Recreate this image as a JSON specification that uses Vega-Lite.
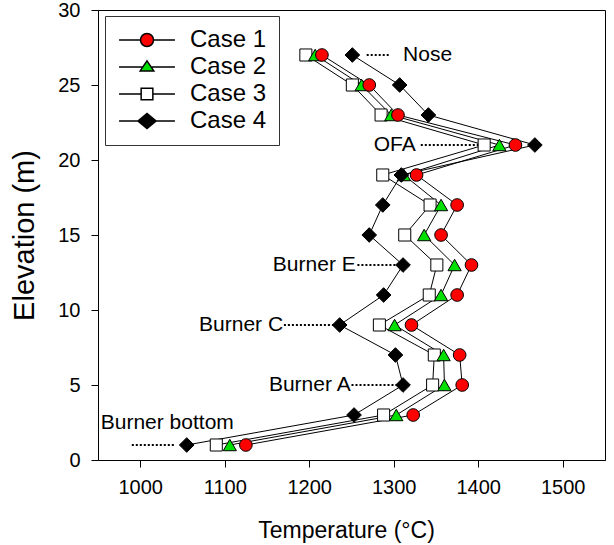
{
  "$schema": "https://vega.github.io/schema/vega-lite/v6.json",
  "width": 507,
  "height": 450,
  "autosize": {"type": "none"},
  "padding": {"left": 98, "top": 10, "right": 9, "bottom": 85},
  "background": "white",
  "config": {
    "font": "Liberation Sans",
    "view": {"stroke": "black", "strokeWidth": 1},
    "axis": {
      "grid": false,
      "domainColor": "black",
      "tickColor": "black",
      "tickSize": 7,
      "labelColor": "black",
      "titleColor": "black",
      "labelFont": "Liberation Sans",
      "titleFont": "Liberation Sans",
      "labelFontSize": 20,
      "titleFontWeight": "normal"
    }
  },
  "datasets": {
    "profiles": [
      {"case": "Case 3", "temp": 1090, "elev": 1},
      {"case": "Case 3", "temp": 1288, "elev": 3},
      {"case": "Case 3", "temp": 1346, "elev": 5},
      {"case": "Case 3", "temp": 1348, "elev": 7},
      {"case": "Case 3", "temp": 1283, "elev": 9},
      {"case": "Case 3", "temp": 1342, "elev": 11},
      {"case": "Case 3", "temp": 1351, "elev": 13},
      {"case": "Case 3", "temp": 1313, "elev": 15},
      {"case": "Case 3", "temp": 1343, "elev": 17},
      {"case": "Case 3", "temp": 1287, "elev": 19},
      {"case": "Case 3", "temp": 1407, "elev": 21},
      {"case": "Case 3", "temp": 1285, "elev": 23},
      {"case": "Case 3", "temp": 1251, "elev": 25},
      {"case": "Case 3", "temp": 1196, "elev": 27},
      {"case": "Case 2", "temp": 1106, "elev": 1},
      {"case": "Case 2", "temp": 1303, "elev": 3},
      {"case": "Case 2", "temp": 1360, "elev": 5},
      {"case": "Case 2", "temp": 1359, "elev": 7},
      {"case": "Case 2", "temp": 1301, "elev": 9},
      {"case": "Case 2", "temp": 1356, "elev": 11},
      {"case": "Case 2", "temp": 1372, "elev": 13},
      {"case": "Case 2", "temp": 1336, "elev": 15},
      {"case": "Case 2", "temp": 1356, "elev": 17},
      {"case": "Case 2", "temp": 1312, "elev": 19},
      {"case": "Case 2", "temp": 1425, "elev": 21},
      {"case": "Case 2", "temp": 1297, "elev": 23},
      {"case": "Case 2", "temp": 1262, "elev": 25},
      {"case": "Case 2", "temp": 1207, "elev": 27},
      {"case": "Case 1", "temp": 1125, "elev": 1},
      {"case": "Case 1", "temp": 1323, "elev": 3},
      {"case": "Case 1", "temp": 1381, "elev": 5},
      {"case": "Case 1", "temp": 1378, "elev": 7},
      {"case": "Case 1", "temp": 1321, "elev": 9},
      {"case": "Case 1", "temp": 1375, "elev": 11},
      {"case": "Case 1", "temp": 1392, "elev": 13},
      {"case": "Case 1", "temp": 1356, "elev": 15},
      {"case": "Case 1", "temp": 1375, "elev": 17},
      {"case": "Case 1", "temp": 1327, "elev": 19},
      {"case": "Case 1", "temp": 1444, "elev": 21},
      {"case": "Case 1", "temp": 1305, "elev": 23},
      {"case": "Case 1", "temp": 1271, "elev": 25},
      {"case": "Case 1", "temp": 1215, "elev": 27},
      {"case": "Case 4", "temp": 1055, "elev": 1},
      {"case": "Case 4", "temp": 1253, "elev": 3},
      {"case": "Case 4", "temp": 1311, "elev": 5},
      {"case": "Case 4", "temp": 1302, "elev": 7},
      {"case": "Case 4", "temp": 1236, "elev": 9},
      {"case": "Case 4", "temp": 1288, "elev": 11},
      {"case": "Case 4", "temp": 1311, "elev": 13},
      {"case": "Case 4", "temp": 1271, "elev": 15},
      {"case": "Case 4", "temp": 1287, "elev": 17},
      {"case": "Case 4", "temp": 1309, "elev": 19},
      {"case": "Case 4", "temp": 1467, "elev": 21},
      {"case": "Case 4", "temp": 1341, "elev": 23},
      {"case": "Case 4", "temp": 1307, "elev": 25},
      {"case": "Case 4", "temp": 1251, "elev": 27}
    ],
    "leaders": [
      {"label": "Nose", "from": 1268, "to": 1295, "elev": 27},
      {"label": "OFA", "from": 1332, "to": 1401, "elev": 21},
      {"label": "Burner E", "from": 1257, "to": 1307, "elev": 13},
      {"label": "Burner C", "from": 1170, "to": 1231, "elev": 9},
      {"label": "Burner A", "from": 1250, "to": 1307, "elev": 5},
      {"label": "Burner bottom", "from": 990, "to": 1040, "elev": 1}
    ],
    "notes": [
      {"label": "Nose", "temp": 1311, "elev": 27},
      {"label": "OFA", "temp": 1326, "elev": 21},
      {"label": "Burner E", "temp": 1255, "elev": 13},
      {"label": "Burner C", "temp": 1169, "elev": 9},
      {"label": "Burner A", "temp": 1249, "elev": 5},
      {"label": "Burner bottom", "temp": 1032, "elev": 2.5}
    ]
  },
  "encoding": {
    "x": {
      "field": "temp", "type": "quantitative",
      "scale": {"domain": [950, 1550], "nice": false, "zero": false},
      "axis": {
        "values": [1000, 1100, 1200, 1300, 1400, 1500],
        "format": "d",
        "title": "Temperature (°C)",
        "titleFontSize": 23,
        "titleX": 248,
        "titleY": 77,
        "titleBaseline": "alphabetic",
        "labelPadding": 10
      }
    },
    "y": {
      "field": "elev", "type": "quantitative",
      "scale": {"domain": [0, 30], "nice": false, "zero": false},
      "axis": {
        "values": [0, 5, 10, 15, 20, 25, 30],
        "format": "d",
        "title": "Elevation (m)",
        "titleFontSize": 29,
        "titleX": -65,
        "titleBaseline": "alphabetic",
        "labelPadding": 11
      }
    }
  },
  "resolve": {
    "scale": {"shape": "independent", "fill": "independent"},
    "legend": {"shape": "independent", "fill": "independent"}
  },
  "layer": [
    {
      "data": {"name": "profiles"},
      "mark": {"type": "line", "stroke": "black", "strokeWidth": 1},
      "encoding": {
        "detail": {"field": "case"},
        "order": {"field": "elev"}
      }
    },
    {
      "data": {"name": "leaders"},
      "mark": {"type": "rule", "stroke": "black", "strokeWidth": 2, "strokeDash": [2, 2]},
      "encoding": {
        "x": {"field": "from", "type": "quantitative"},
        "x2": {"field": "to"},
        "y": {"field": "elev", "type": "quantitative"}
      }
    },
    {
      "data": {"name": "notes"},
      "transform": [{"filter": "datum.label === 'Nose'"}],
      "mark": {"type": "text", "align": "left", "baseline": "middle", "fontSize": 21, "font": "Liberation Sans", "color": "black"},
      "encoding": {"text": {"field": "label"}}
    },
    {
      "data": {"name": "notes"},
      "transform": [{"filter": "datum.label !== 'Nose' && datum.label !== 'Burner bottom'"}],
      "mark": {"type": "text", "align": "right", "baseline": "middle", "fontSize": 21, "font": "Liberation Sans", "color": "black"},
      "encoding": {"text": {"field": "label"}}
    },
    {
      "data": {"name": "notes"},
      "transform": [{"filter": "datum.label === 'Burner bottom'"}],
      "mark": {"type": "text", "align": "center", "baseline": "middle", "fontSize": 21, "font": "Liberation Sans", "color": "black"},
      "encoding": {"text": {"field": "label"}}
    },
    {
      "data": {"name": "profiles"},
      "mark": {"type": "point", "filled": true, "stroke": "black", "strokeWidth": 1, "opacity": 1},
      "encoding": {
        "shape": {
          "field": "case", "type": "nominal",
          "scale": {"domain": ["Case 1", "Case 2", "Case 3", "Case 4"], "range": ["circle", "triangle-up", "square", "diamond"]},
          "legend": null
        },
        "fill": {
          "field": "case", "type": "nominal",
          "scale": {"domain": ["Case 1", "Case 2", "Case 3", "Case 4"], "range": ["#ff0000", "#00e000", "#ffffff", "#000000"]},
          "legend": null
        },
        "size": {
          "field": "case", "type": "nominal",
          "scale": {"type": "ordinal", "domain": ["Case 1", "Case 2", "Case 3", "Case 4"], "range": [160, 175, 145, 215]},
          "legend": null
        }
      }
    },
    {
      "data": {"name": "profiles"},
      "transform": [{"filter": "false"}],
      "mark": {"type": "point", "filled": true, "stroke": "black", "strokeWidth": 1, "opacity": 1},
      "encoding": {
        "shape": {
          "field": "case", "type": "nominal",
          "scale": {
            "domain": ["Case 1", "Case 2", "Case 3", "Case 4"],
            "range": [
              "M-4.3,0H-1M1,0H4.3M-1,0A1,1 0 1,1 1,0A1,1 0 1,1 -1,0Z",
              "M-4.3,0H-0.64M0.64,0H4.3M0,-0.95L1.05,0.6L-1.05,0.6Z",
              "M-4.3,0H-0.9M0.9,0H4.3M-0.9,-0.9H0.9V0.9H-0.9Z",
              "M-4.3,0H4.3M-1.4,0L0,-1.15L1.4,0L0,1.15Z"
            ]
          },
          "legend": {
            "title": null,
            "orient": "none",
            "legendX": 7,
            "legendY": 6,
            "padding": 12,
            "strokeColor": "#333333",
            "fillColor": "white",
            "labelFontSize": 24,
            "labelFont": "Liberation Sans",
            "labelColor": "black",
            "rowPadding": 3,
            "symbolSize": 169,
            "symbolOffset": 18,
            "labelOffset": 31
          }
        },
        "fill": {
          "field": "case", "type": "nominal",
          "scale": {"domain": ["Case 1", "Case 2", "Case 3", "Case 4"], "range": ["#ff0000", "#00e000", "#ffffff", "#000000"]},
          "legend": {
            "title": null,
            "orient": "none",
            "legendX": 7,
            "legendY": 6,
            "padding": 12,
            "strokeColor": "#333333",
            "fillColor": "white",
            "labelFontSize": 24,
            "labelFont": "Liberation Sans",
            "labelColor": "black",
            "rowPadding": 3,
            "symbolSize": 169,
            "symbolOffset": 18,
            "labelOffset": 31
          }
        }
      }
    }
  ]
}
